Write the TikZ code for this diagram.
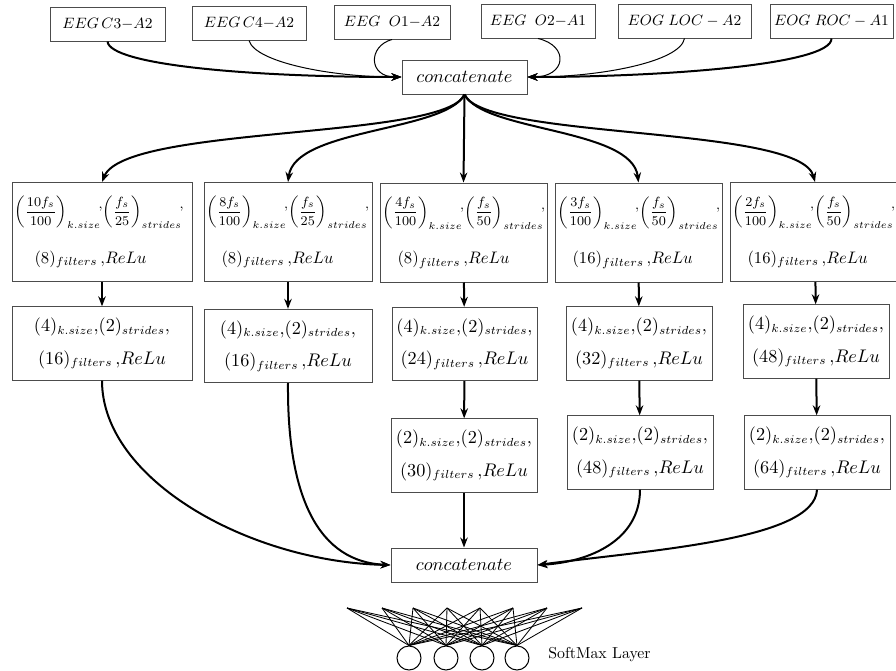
\documentclass[tikz,border=0pt]{standalone}
\usepackage{amsmath}
\usetikzlibrary{arrows.meta, positioning}

\newcommand{\rc}{\raisebox{4pt}{,}}
\newcommand{\kline}{\fontsize{8.5}{10}\selectfont}
\newcommand{\fline}{\fontsize{10}{12}\selectfont}

\begin{document}
\begin{tikzpicture}[x=0.6pt, y=-0.6pt,
    inbox/.style={draw=black!70, line width=0.6pt, minimum height=20.4pt, inner sep=1pt, font=\fontsize{9}{11}\selectfont},
    catbox/.style={draw=black!70, line width=0.6pt, minimum height=20.4pt, text width=#1, align=center, inner xsep=1.5pt, font=\fontsize{10.5}{12.6}\selectfont},
    convbox/.style={draw=black!70, line width=0.6pt, minimum height=59.4pt, text width=#1, inner xsep=1.5pt, align=left, font=\fontsize{10}{12}\selectfont},
    poolbox/.style={draw=black!70, line width=0.6pt, minimum height=44pt, text width=#1, inner xsep=1.5pt, align=center, font=\fontsize{10.5}{12.6}\selectfont},
    unit/.style={draw, circle, minimum size=14.4pt, inner sep=0pt, line width=0.6pt},
    flow/.style={-{Stealth[length=6pt, width=4.5pt]}, line width=1.2pt},
    flowlight/.style={-{Stealth[length=6pt, width=4.5pt]}, line width=0.6pt}]
    \useasboundingbox (0,0) rectangle (896,671);

    % input channels
    \node[inbox, minimum width=69pt] (c3) at (107.5,24) {$EEG\,C3{-}A2$};
    \node[inbox, minimum width=68.4pt] (c4) at (249,23) {$EEG\,C4{-}A2$};
    \node[inbox, minimum width=69.6pt] (o1) at (392,22) {$EEG\;\;O1{-}A2$};
    \node[inbox, minimum width=68.4pt] (o2) at (538,21) {$EEG\;\;O2{-}A1$};
    \node[inbox, minimum width=79.8pt] (loc) at (684.5,21) {$EOG\;LOC-A2$};
    \node[inbox, minimum width=73.8pt] (roc) at (831.5,21) {$EOG\;ROC-A1$};

    \node[catbox=72pt] (cat) at (464.5,77) {$concatenate$};

    % first convolution layer
    \node[convbox=105pt] (conv1) at (102,232) {\kline$\displaystyle\biggl(\frac{10f_s}{100}\biggr)_{k.size}\!\rc\biggl(\frac{f_s}{25}\biggr)_{strides}\!\rc$\\[12pt]\fline\hspace*{12pt}$(8)_{filters}\,{,}ReLu$};
    \node[convbox=97.8pt] (conv2) at (288,232) {\kline$\displaystyle\biggl(\frac{8f_s}{100}\biggr)_{k.size}\!\rc\biggl(\frac{f_s}{25}\biggr)_{strides}\!\rc$\\[12pt]\fline\hspace*{9pt}$(8)_{filters}\,{,}ReLu$};
    \node[convbox=97.2pt] (conv3) at (463.5,232.5) {\kline$\displaystyle\biggl(\frac{4f_s}{100}\biggr)_{k.size}\!\rc\biggl(\frac{f_s}{50}\biggr)_{strides}\!\rc$\\[12pt]\fline\hspace*{9pt}$(8)_{filters}\,{,}ReLu$};
    \node[convbox=97.2pt] (conv4) at (638.5,232.5) {\kline$\displaystyle\biggl(\frac{3f_s}{100}\biggr)_{k.size}\!\rc\biggl(\frac{f_s}{50}\biggr)_{strides}\!\rc$\\[12pt]\fline\hspace*{9pt}$(16)_{filters}\,{,}ReLu$};
    \node[convbox=99pt] (conv5) at (815,232) {\kline$\displaystyle\biggl(\frac{2f_s}{100}\biggr)_{k.size}\!\rc\biggl(\frac{f_s}{50}\biggr)_{strides}\!\rc$\\[12pt]\fline\hspace*{9pt}$(16)_{filters}\,{,}ReLu$};

    % second layer
    \node[poolbox=105pt] (pool1) at (102,343.5) {$(4)_{k.size}{,}(2)_{strides}{,}$\\[7pt]$(16)_{filters}\,{,}ReLu$};
    \node[poolbox=97.8pt] (pool2) at (288,346) {$(4)_{k.size}{,}(2)_{strides}{,}$\\[7pt]$(16)_{filters}\,{,}ReLu$};
    \node[poolbox=84pt] (pool3) at (464.5,344) {$(4)_{k.size}{,}(2)_{strides}{,}$\\[7pt]$(24)_{filters}\,{,}ReLu$};
    \node[poolbox=84.6pt] (pool4) at (639,343.5) {$(4)_{k.size}{,}(2)_{strides}{,}$\\[7pt]$(32)_{filters}\,{,}ReLu$};
    \node[poolbox=84.6pt] (pool5) at (816,341.5) {$(4)_{k.size}{,}(2)_{strides}{,}$\\[7pt]$(48)_{filters}\,{,}ReLu$};

    % third layer
    \node[poolbox=84.6pt] (last3) at (464,455.5) {$(2)_{k.size}{,}(2)_{strides}{,}$\\[7pt]$(30)_{filters}\,{,}ReLu$};
    \node[poolbox=84.6pt] (last4) at (640,452.5) {$(2)_{k.size}{,}(2)_{strides}{,}$\\[7pt]$(48)_{filters}\,{,}ReLu$};
    \node[poolbox=84.6pt] (last5) at (817,452.5) {$(2)_{k.size}{,}(2)_{strides}{,}$\\[7pt]$(64)_{filters}\,{,}ReLu$};

    \node[catbox=84.6pt] (merge) at (464,565) {$concatenate$};

    % inputs into concatenate
    \draw[flow] (c3.south) .. controls (110,65) and (250,77) .. (cat.west);
    \draw[flowlight] (c4.south) .. controls (255,62) and (330,77) .. (cat.west);
    \draw[flowlight] (o1.south) .. controls (368,46) and (368,77) .. (cat.west);
    \draw[flowlight] (o2.south) .. controls (570,46) and (566,77) .. (cat.east);
    \draw[flowlight] (loc.south) .. controls (680,62) and (600,77) .. (cat.east);
    \draw[flow] (roc.south) .. controls (832,65) and (660,77) .. (cat.east);

    % branches
    \draw[flow] (cat.south) .. controls (445,140) and (125,125) .. (conv1.north);
    \draw[flow] (cat.south) .. controls (445,132) and (295,128) .. (conv2.north);
    \draw[flow] (cat.south) -- (conv3.north);
    \draw[flow] (cat.south) .. controls (484,132) and (632,128) .. (conv4.north);
    \draw[flow] (cat.south) .. controls (484,140) and (800,125) .. (conv5.north);

    \draw[flow] (conv1) -- (pool1);
    \draw[flow] (conv2) -- (pool2);
    \draw[flow] (conv3) -- (pool3);
    \draw[flow] (conv4) -- (pool4);
    \draw[flow] (conv5) -- (pool5);
    \draw[flow] (pool3) -- (last3);
    \draw[flow] (pool4) -- (last4);
    \draw[flow] (pool5) -- (last5);

    \draw[flow] (pool1.south) .. controls (102,480) and (250,562) .. (merge.west);
    \draw[flow] (pool2.south) .. controls (287,500) and (320,562) .. (merge.west);
    \draw[flow] (last3) -- (merge);
    \draw[flow] (last4.south) .. controls (640,540) and (590,562) .. (merge.east);
    \draw[flow] (last5.south) .. controls (815,540) and (650,550) .. (merge.east);

    % softmax layer
    \foreach \i/\x in {1/347,2/382,3/413,4/447,5/480,6/513,7/547,8/582}
        \coordinate (in\i) at (\x,608);
    \foreach \j/\x in {1/409,2/446,3/482,4/517}
        \node[unit] (out\j) at (\x,658) {};
    \foreach \i in {1,...,8}
        \foreach \j in {1,...,4}
            \draw[line width=0.5pt] (in\i) -- (out\j.north);
    \node[anchor=west, inner sep=0pt, font=\fontsize{9.5}{11}\selectfont] (smx) at (548,655) {SoftMax Layer};
\end{tikzpicture}
\end{document}
